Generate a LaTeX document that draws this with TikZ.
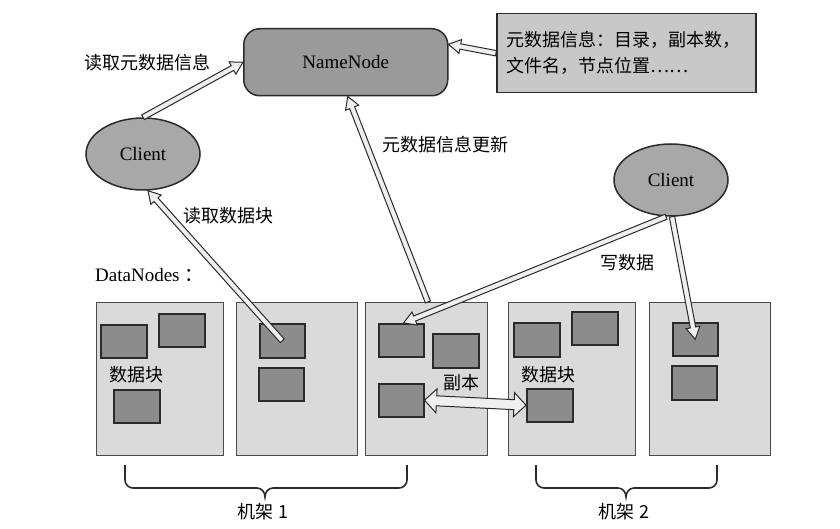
\documentclass[tikz,border=0pt]{standalone}
\usepackage{fontspec}
\setmainfont{Liberation Serif}
\newfontfamily\cjk{Noto Sans CJK SC}
\usetikzlibrary{calc,shapes.geometric}
\definecolor{nnfill}{HTML}{9A9A9A}
\definecolor{clfill}{HTML}{A8A8A8}
\definecolor{infofill}{HTML}{C8C8C8}
\definecolor{dnfill}{HTML}{DADADA}
\definecolor{blkfill}{HTML}{8C8C8C}
\definecolor{edge}{HTML}{2A2A2A}
\definecolor{arrfill}{HTML}{EFEFEF}
\tikzset{
  nnbox/.style={draw=edge, line width=1.5pt, fill=nnfill, rounded corners=16pt},
  clientnode/.style={ellipse, draw=edge, line width=1.5pt, fill=clfill, minimum width=114pt, minimum height=72pt, inner sep=0pt, font=\fontsize{19}{21}\selectfont},
  infobox/.style={draw=edge, line width=1.5pt, fill=infofill},
  dnbox/.style={draw=edge!85, line width=1.3pt, fill=dnfill},
  blkbox/.style={draw=edge, line width=1.5pt, fill=blkfill},
  harrow/.style={draw=edge, line width=1pt, fill=arrfill, line join=miter},
  lbl/.style={font=\cjk\fontsize{18}{20}\selectfont, inner sep=0pt},
  brace/.style={draw=edge, line width=1.6pt},
}
\newcommand\boxat[6]{\node[#1, anchor=north west, inner sep=0pt, minimum width={#5-#3}, minimum height={#6-#4}] (#2) at (#3,#4) {};}
\newcommand\hollowarrow[2]{%
  \path (#1) coordinate (ha-s) (#2) coordinate (ha-e);
  \path ($(ha-e)!12pt!(ha-s)$) coordinate (ha-h);
  \filldraw[harrow] ($(ha-s)!2.7pt!90:(ha-e)$) -- ($(ha-h)!2.7pt!-90:(ha-s)$) -- ($(ha-h)!7pt!-90:(ha-s)$) -- (ha-e) -- ($(ha-h)!7pt!90:(ha-s)$) -- ($(ha-h)!2.7pt!90:(ha-s)$) -- ($(ha-s)!2.7pt!-90:(ha-e)$) -- cycle;
}
\newcommand\dblarrow[2]{%
  \path (#1) coordinate (da-s) (#2) coordinate (da-e);
  \path ($(da-e)!12pt!(da-s)$) coordinate (da-h2) ($(da-s)!12pt!(da-e)$) coordinate (da-h1);
  \filldraw[harrow] (da-s) -- ($(da-h1)!12pt!90:(da-e)$) -- ($(da-h1)!5pt!90:(da-e)$) -- ($(da-h2)!5pt!-90:(da-s)$) -- ($(da-h2)!12pt!-90:(da-s)$) -- (da-e) -- ($(da-h2)!12pt!90:(da-s)$) -- ($(da-h2)!5pt!90:(da-s)$) -- ($(da-h1)!5pt!-90:(da-e)$) -- ($(da-h1)!12pt!-90:(da-e)$) -- cycle;
}
\begin{document}
\begin{tikzpicture}[x=1pt, y=-1pt]
\useasboundingbox (0,0) rectangle (840,529);
\fill[white] (0,0) rectangle (840,529);

% NameNode and info box
\node[nnbox, anchor=north west, minimum width=204pt, minimum height=67pt, font=\fontsize{19}{21}\selectfont] (nn) at (243,28) {NameNode};
\node[infobox, anchor=north west, minimum width=259pt, minimum height=79pt, text width=240pt, align=left, inner sep=0pt, font=\cjk\fontsize{18}{26}\selectfont] (info) at (496,13) {元数据信息：目录，副本数，\\文件名，节点位置……};

% Clients
\node[clientnode] (c1) at (143,154) {Client};
\node[clientnode] (c2) at (671,180) {Client};

% DataNodes
\node[anchor=west, inner sep=0pt, font=\fontsize{19}{21}\selectfont] (dnl) at (95,275) {DataNodes {\cjk ：}};
\boxat{dnbox}{dn1}{96}{302}{223}{455}
\boxat{dnbox}{dn2}{236}{302}{357}{455}
\boxat{dnbox}{dn3}{365}{302}{487}{455}
\boxat{dnbox}{dn4}{508}{302}{635}{455}
\boxat{dnbox}{dn5}{649}{302}{770}{455}

% blocks
\boxat{blkbox}{d1a}{100}{324}{146}{357}
\boxat{blkbox}{d1b}{158}{313}{204}{346}
\boxat{blkbox}{d1c}{113}{389}{159}{422}
\boxat{blkbox}{d2a}{259}{323}{304}{357}
\boxat{blkbox}{d2b}{258}{367}{303}{400}
\boxat{blkbox}{d3a}{378}{323}{423}{356}
\boxat{blkbox}{d3b}{432}{333}{478}{367}
\boxat{blkbox}{d3c}{378}{383}{423}{416}
\boxat{blkbox}{d4a}{513}{322}{559}{356}
\boxat{blkbox}{d4b}{571}{311}{617}{344}
\boxat{blkbox}{d4c}{526}{388}{572}{421}
\boxat{blkbox}{d5a}{672}{322}{717}{355}
\boxat{blkbox}{d5b}{671}{365}{716}{399}

% labels
\node[lbl] (l1) at (147,63) {读取元数据信息};
\node[lbl] (l2) at (228,216) {读取数据块};
\node[lbl] (l3) at (445,145) {元数据信息更新};
\node[lbl] (l4) at (627,263) {写数据};
\node[lbl] (l5) at (136,375) {数据块};
\node[lbl] (l6) at (548,375) {数据块};
\node[lbl] (l7) at (461,383) {副本};
\node[lbl] (r1) at (263,512) {机架 1};
\node[lbl] (r2) at (624,512) {机架 2};

% arrows
\hollowarrow{c1.north}{nn.west}
\hollowarrow{info.west}{$(nn.east)+(0,-18)$}
\hollowarrow{d2a.center}{$(c1.south)+(5,0)$}
\hollowarrow{$(dn3.north west)!0.51!(dn3.north east)$}{$(nn.south)+(2,0)$}
\hollowarrow{$(c2.south)+(-5,0)$}{$(d3a.north east)+(-21,0)$}
\hollowarrow{$(c2.south)+(1,0)$}{d5a.center}
\dblarrow{d3c.east}{d4c.west}

% braces
\draw[brace] (125,465) -- (125,480) to[out=-90,in=180] (133,488) -- (257,488) to[out=0,in=90] (265,497) to[out=90,in=180] (273,488) -- (399,488) to[out=0,in=-90] (407,480) -- (407,465);
\draw[brace] (536,465) -- (536,480) to[out=-90,in=180] (544,488) -- (618,488) to[out=0,in=90] (626,497) to[out=90,in=180] (634,488) -- (709,488) to[out=0,in=-90] (717,480) -- (717,465);
\end{tikzpicture}
\end{document}
